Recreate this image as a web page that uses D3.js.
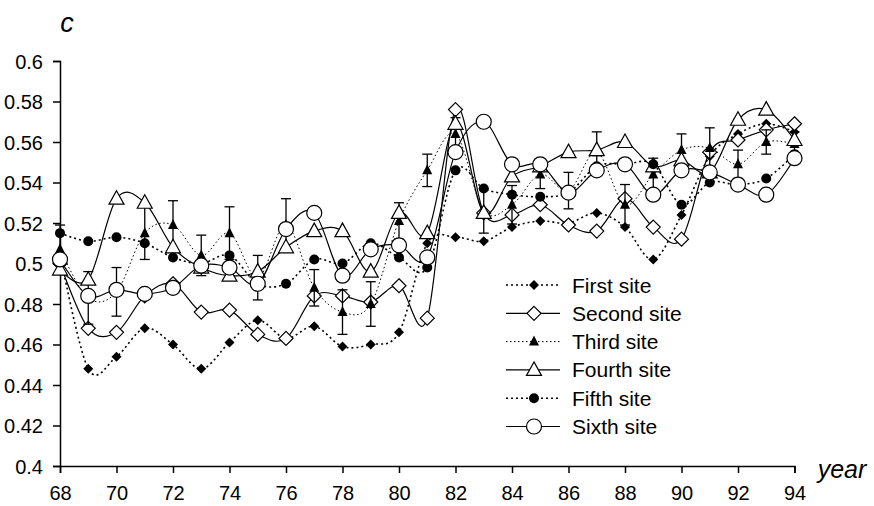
<!DOCTYPE html>
<html>
<head>
<meta charset="utf-8">
<script src="https://cdn.jsdelivr.net/npm/d3@7"></script>
<style>
  body { margin: 0; background: #fff; }
  svg text { font-family: Arial, "Liberation Sans", sans-serif; fill: #000; }
</style>
</head>
<body>
<svg id="chart" width="874" height="506"></svg>
<script>
// Years on the x axis
const years = d3.range(68, 95);

// Series values, one per year 68..94
const firstSite = [0.505, 0.448, 0.454, 0.468, 0.460, 0.448, 0.461, 0.472, 0.463, 0.469, 0.459, 0.460, 0.466, 0.510,
  0.513, 0.511, 0.518, 0.521, 0.520, 0.525, 0.518, 0.502, 0.524, 0.553, 0.564, 0.569, 0.565];
const secondSite = [0.500, 0.468, 0.466, 0.484, 0.490, 0.476, 0.477, 0.465, 0.463, 0.484, 0.484, 0.481, 0.489, 0.473,
  0.576, 0.525, 0.524, 0.529, 0.519, 0.516, 0.532, 0.518, 0.512, 0.555, 0.561, 0.566, 0.569];
const thirdSite = [0.507, 0.483, 0.486, 0.515, 0.519, 0.504, 0.515, 0.493, 0.519, 0.488, 0.476, 0.480, 0.521, 0.546,
  0.564, 0.526, 0.529, 0.544, 0.536, 0.555, 0.529, 0.544, 0.556, 0.557, 0.549, 0.560, 0.559];
const thirdErr = [0.012, 0.013, 0.012, 0.013, 0.012, 0.010, 0.013, 0.011, 0.013, 0.009, 0.011, 0.011, 0.009, 0.008,
  0.008, 0.011, 0.0095, 0.007, 0.009, 0.010, 0.010, 0.008, 0.008, 0.010, 0.007, 0.006, 0.006];
const fourthSite = [0.497, 0.492, 0.532, 0.530, 0.508, 0.498, 0.494, 0.496, 0.508, 0.516, 0.516, 0.496, 0.525, 0.515,
  0.569, 0.525, 0.543, 0.548, 0.555, 0.556, 0.560, 0.548, 0.551, 0.545, 0.571, 0.576, 0.561];
const fifthSite = [0.515, 0.511, 0.513, 0.510, 0.503, 0.500, 0.504, 0.490, 0.490, 0.502, 0.500, 0.510, 0.503, 0.498,
  0.546, 0.537, 0.534, 0.533, 0.535, 0.548, 0.549, 0.549, 0.529, 0.540, 0.539, 0.542, 0.554];
const sixthSite = [0.502, 0.484, 0.487, 0.485, 0.488, 0.499, 0.498, 0.490, 0.517, 0.525, 0.494, 0.507, 0.509, 0.503,
  0.555, 0.570, 0.549, 0.549, 0.535, 0.546, 0.549, 0.534, 0.546, 0.545, 0.539, 0.534, 0.552];

const seriesNames = ['First site', 'Second site', 'Third site', 'Fourth site', 'Fifth site', 'Sixth site'];
const xTicks = d3.range(68, 95, 2);
const yTicks = [0.4, 0.42, 0.44, 0.46, 0.48, 0.5, 0.52, 0.54, 0.56, 0.58, 0.6];

const series = [
  { name: seriesNames[0], values: firstSite, dash: '2,3', width: 1.6, marker: 'diamondFilled' },
  { name: seriesNames[1], values: secondSite, dash: null, width: 1.2, marker: 'diamondOpen' },
  { name: seriesNames[2], values: thirdSite, dash: '1.5,2.5', width: 1, marker: 'triangleFilled', err: thirdErr },
  { name: seriesNames[3], values: fourthSite, dash: null, width: 1.2, marker: 'triangleOpen' },
  { name: seriesNames[4], values: fifthSite, dash: '2,3', width: 1.6, marker: 'circleFilled' },
  { name: seriesNames[5], values: sixthSite, dash: null, width: 1.2, marker: 'circleOpen' }
];

const svg = d3.select('#chart');

const x = d3.scaleLinear().domain([68, 94]).range([60, 794.5]);
const y = d3.scaleLinear().domain([0.4, 0.6]).range([466, 61]);

// axes
const yAxis = svg.append('g')
  .attr('transform', 'translate(60,0)')
  .call(d3.axisLeft(y).tickValues(yTicks).tickSize(7).tickPadding(10).tickFormat(d3.format('~g')));
const xAxis = svg.append('g')
  .attr('transform', 'translate(0,466)')
  .call(d3.axisBottom(x).tickValues(xTicks).tickSize(7).tickPadding(13));
[xAxis, yAxis].forEach(a => {
  a.select('.domain').attr('stroke', '#000').attr('stroke-width', 1.5);
  a.selectAll('.tick line').attr('stroke', '#000').attr('stroke-width', 1.5);
  a.selectAll('.tick text').style('font-size', '20px').attr('fill', '#000');
});
yAxis.selectAll('.tick text').attr('dy', '0.36em');

svg.append('text').attr('x', 67).attr('y', 32).attr('text-anchor', 'middle')
  .style('font-size', '27px').style('font-style', 'italic').text('c');
svg.append('text').attr('x', 842).attr('y', 478).attr('text-anchor', 'middle')
  .style('font-size', '25px').style('font-style', 'italic').text('year');

// marker drawing
function drawMarker(g, type) {
  if (type === 'diamondFilled') {
    g.append('path').attr('d', 'M0,-5L5,0L0,5L-5,0Z').attr('fill', '#000');
  } else if (type === 'diamondOpen') {
    g.append('path').attr('d', 'M0,-7L7,0L0,7L-7,0Z').attr('fill', '#fff').attr('stroke', '#000').attr('stroke-width', 1.2);
  } else if (type === 'triangleFilled') {
    g.append('path').attr('d', 'M0,-6L5,4L-5,4Z').attr('fill', '#000');
  } else if (type === 'triangleOpen') {
    g.append('path').attr('d', 'M0,-8L7.5,5.5L-7.5,5.5Z').attr('fill', '#fff').attr('stroke', '#000').attr('stroke-width', 1.2);
  } else if (type === 'circleFilled') {
    g.append('circle').attr('r', 5).attr('fill', '#000');
  } else {
    g.append('circle').attr('r', 7.5).attr('fill', '#fff').attr('stroke', '#000').attr('stroke-width', 1.2);
  }
}

const line = d3.line()
  .x((d, i) => x(years[i]))
  .y(d => y(d))
  .curve(d3.curveCatmullRom.alpha(0));

series.forEach(s => {
  const g = svg.append('g');
  g.append('path')
    .attr('d', line(s.values))
    .attr('fill', 'none')
    .attr('stroke', '#000')
    .attr('stroke-width', s.width)
    .attr('stroke-dasharray', s.dash);
  if (s.err) {
    s.values.forEach((v, i) => {
      const cx = x(years[i]);
      const y1 = y(v + s.err[i]), y2 = y(v - s.err[i]);
      g.append('line').attr('x1', cx).attr('x2', cx).attr('y1', y1).attr('y2', y2).attr('stroke', '#000').attr('stroke-width', 1.3);
      [y1, y2].forEach(yy => g.append('line').attr('x1', cx - 5).attr('x2', cx + 5).attr('y1', yy).attr('y2', yy)
        .attr('stroke', '#000').attr('stroke-width', 1.3));
    });
  }
  s.values.forEach((v, i) => {
    const m = g.append('g').attr('transform', `translate(${x(years[i])},${y(v)})`);
    drawMarker(m, s.marker);
  });
});

// legend
const legend = svg.append('g').attr('transform', 'translate(506,285)');
series.forEach((s, i) => {
  const row = legend.append('g').attr('transform', `translate(0,${i * 28.3})`);
  row.append('line').attr('x1', 0).attr('x2', 54).attr('y1', 0).attr('y2', 0)
    .attr('stroke', '#000').attr('stroke-width', s.width).attr('stroke-dasharray', s.dash);
  drawMarker(row.append('g').attr('transform', 'translate(28,0)'), s.marker);
  row.append('text').attr('x', 66).attr('y', 0).attr('dy', '0.36em')
    .style('font-size', '21px').text(s.name);
});
</script>
</body>
</html>
